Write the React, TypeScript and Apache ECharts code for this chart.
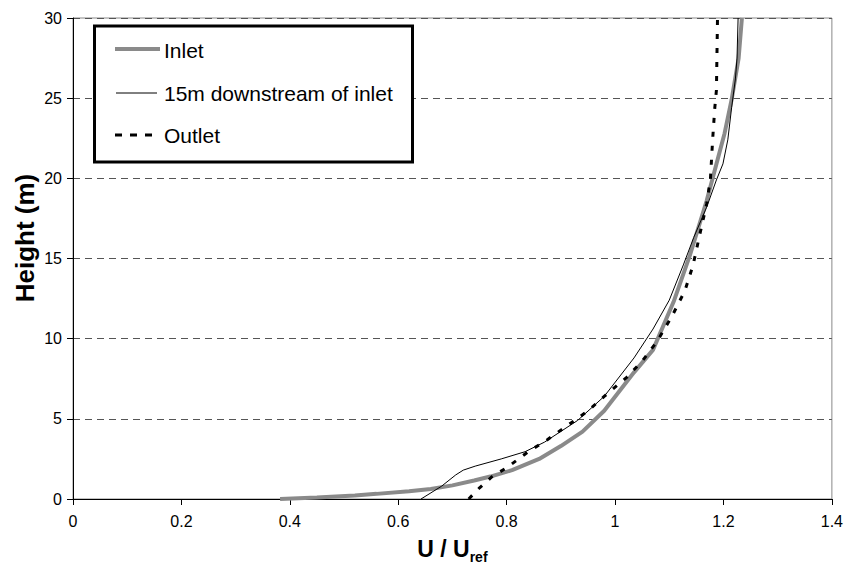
import React, { useEffect, useRef } from "react";
import * as echarts from "echarts";

const seriesNames = ["Inlet", "15m downstream of inlet", "Outlet"];
const yTitle = "Height (m)";

// [U/Uref, height]
const inletData: [number, number][] = [
  [0.382, 0], [0.45, 0.1], [0.52, 0.22], [0.56, 0.32], [0.62, 0.48], [0.66, 0.62],
  [0.70, 0.85], [0.74, 1.15], [0.77, 1.4], [0.81, 1.8], [0.86, 2.5], [0.90, 3.3],
  [0.94, 4.2], [0.98, 5.5], [1.035, 7.9], [1.07, 9.3], [1.108, 12.3], [1.138, 15.2],
  [1.169, 18.6], [1.187, 20.9], [1.202, 22.8], [1.215, 24.9], [1.228, 27.5], [1.234, 30],
];

const downstreamData: [number, number][] = [
  [0.642, 0], [0.68, 0.8], [0.706, 1.5], [0.72, 1.8], [0.742, 2.05], [0.79, 2.5],
  [0.834, 2.95], [0.87, 3.55], [0.931, 4.9], [0.98, 6.4], [1.035, 8.8], [1.07, 10.6],
  [1.10, 12.4], [1.126, 14.6], [1.145, 16.3], [1.169, 18.2], [1.187, 19.9], [1.199, 20.9],
  [1.208, 22.4], [1.215, 24.4], [1.222, 26.2], [1.225, 27.5], [1.227, 30],
];

const outletData: [number, number][] = [
  [0.73, 0], [0.75, 0.7], [0.773, 1.39], [0.80, 1.95], [0.84, 2.95], [0.875, 3.7],
  [0.913, 4.6], [0.95, 5.5], [0.98, 6.4], [1.022, 7.6], [1.05, 8.6], [1.077, 9.8],
  [1.105, 11.4], [1.129, 13.0], [1.144, 14.6], [1.155, 16.3], [1.169, 18.4], [1.176, 20.0],
  [1.18, 22.4], [1.184, 24.4], [1.187, 25.5], [1.189, 30],
];

const FONT = '"Liberation Sans", Arial, sans-serif';

export default function App() {
  const ref = useRef<HTMLDivElement>(null);
  useEffect(() => {
    if (!ref.current) return;
    const chart = echarts.init(ref.current, null, { renderer: "svg" });
    const legendText = (text: string, y: number) => ({
      type: "text",
      x: 164,
      y,
      z: 11,
      style: { text, fontSize: 21, fontFamily: FONT, fill: "#000", verticalAlign: "middle", align: "left" },
    });
    chart.setOption({
      animation: false,
      backgroundColor: "#fff",
      textStyle: { fontFamily: FONT },
      grid: {
        left: 73, right: 7, top: 18, bottom: 71,
        show: true, borderColor: "#888", borderWidth: 1, backgroundColor: "transparent",
      },
      xAxis: {
        type: "value", min: 0, max: 1.4, interval: 0.2,
        name: "{a|U / U}{b|ref}",
        nameLocation: "middle", nameGap: 35,
        nameTextStyle: {
          rich: {
            a: { fontSize: 23, fontWeight: "bold", fontFamily: FONT, color: "#000", lineHeight: 24 },
            b: { fontSize: 14, fontWeight: "bold", fontFamily: FONT, color: "#000", lineHeight: 30, verticalAlign: "bottom" },
          },
        },
        axisLine: { show: true, lineStyle: { color: "#000", width: 1 } },
        axisTick: { show: true, inside: false, length: 6, lineStyle: { color: "#000" } },
        axisLabel: { fontSize: 16, color: "#000", margin: 14, fontFamily: FONT },
        splitLine: { show: false },
      },
      yAxis: {
        type: "value", min: 0, max: 30, interval: 5,
        axisLine: { show: true, lineStyle: { color: "#000", width: 1 } },
        axisTick: { show: true, inside: false, length: 6, lineStyle: { color: "#000" } },
        axisLabel: { fontSize: 16, color: "#000", margin: 11, fontFamily: FONT },
        splitLine: { show: true, lineStyle: { color: "#555", width: 1, type: [7, 5] } },
      },
      series: [
        {
          name: seriesNames[0], type: "line", data: inletData, showSymbol: false, symbol: "none",
          lineStyle: { color: "#8a8a8a", width: 4 }, z: 2,
        },
        {
          name: seriesNames[1], type: "line", data: downstreamData, showSymbol: false, symbol: "none",
          lineStyle: { color: "#000", width: 1 }, z: 3,
        },
        {
          name: seriesNames[2], type: "line", data: outletData, showSymbol: false, symbol: "none",
          lineStyle: { color: "#000", width: 3, type: [5, 9] }, z: 4,
        },
      ],
      graphic: [
        {
          type: "text", x: 25, y: 238, rotation: Math.PI / 2, z: 11,
          style: { text: yTitle, fontSize: 26, fontWeight: "bold", fontFamily: FONT, fill: "#000", align: "center", verticalAlign: "middle" },
        },
        {
          type: "rect", x: 94.5, y: 26, z: 10,
          shape: { x: 0, y: 0, width: 318, height: 136 },
          style: { fill: "#fff", stroke: "#000", lineWidth: 3 },
        },
        {
          type: "line", z: 11,
          shape: { x1: 115, y1: 49, x2: 160, y2: 49 },
          style: { stroke: "#8a8a8a", lineWidth: 4 },
        },
        {
          type: "line", z: 11,
          shape: { x1: 116, y1: 93, x2: 157, y2: 93 },
          style: { stroke: "#000", lineWidth: 1 },
        },
        {
          type: "line", z: 11,
          shape: { x1: 115, y1: 135, x2: 153, y2: 135 },
          style: { stroke: "#000", lineWidth: 3, lineDash: [7, 8] },
        },
        legendText(seriesNames[0], 50),
        legendText(seriesNames[1], 93),
        legendText(seriesNames[2], 135),
      ],
    });
    return () => chart.dispose();
  }, []);
  return <div ref={ref} style={{ width: 846, height: 570, position: "absolute", left: 0, top: 0 }} />;
}
